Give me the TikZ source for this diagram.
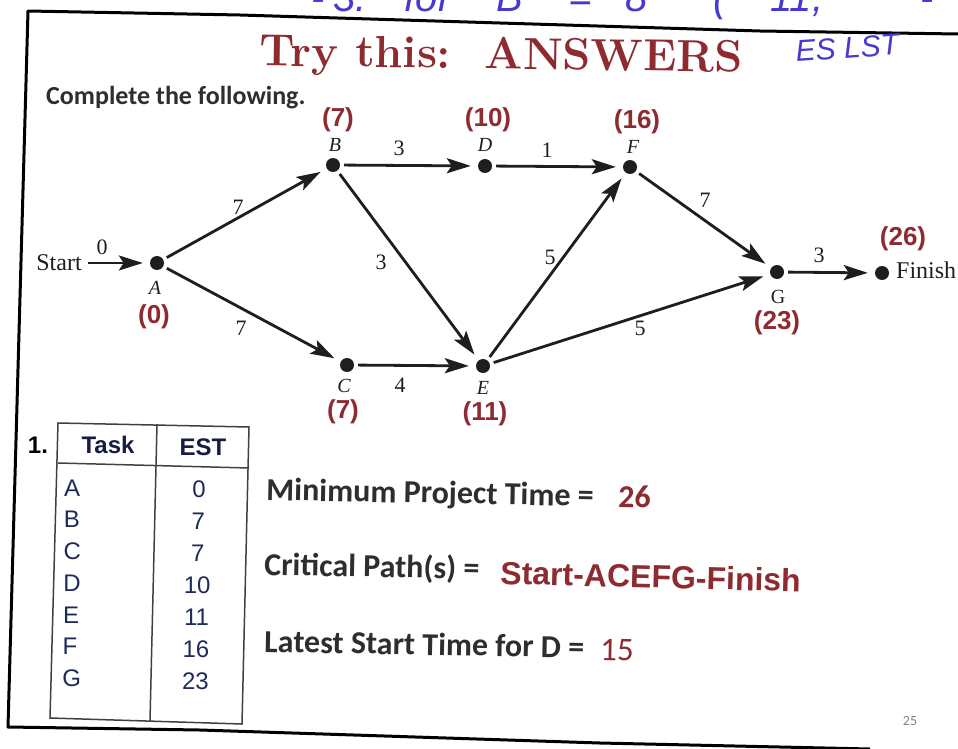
\documentclass[tikz,border=0pt]{standalone}
\usepackage{fontspec}
\newfontfamily\calib{Carlito}
\newfontfamily\arial{Liberation Sans}
\newfontfamily\tnrfont{Liberation Serif}
\usetikzlibrary{arrows.meta}
\definecolor{twink}{HTML}{1E1E1E}
\definecolor{twred}{HTML}{8E2B31}
\definecolor{twnavy}{HTML}{1F2A5C}
\definecolor{twgray}{HTML}{2E2E2E}
\definecolor{twpen}{HTML}{4638D2}

\begin{document}
\begin{tikzpicture}[
  x=1pt,y=-1pt,
  font=\tnrfont\fontsize{22}{26}\selectfont,
  dot/.style={circle,fill=twink,inner sep=0pt,minimum size=14pt},
  edge/.style={draw=twink,line width=2.8pt,shorten <=4pt,shorten >=7pt,
    -{Stealth[length=24pt,width=15pt,inset=5pt]}},
  wt/.style={text=twink,inner sep=0pt},
  lett/.style={text=twink,inner sep=0pt,font=\tnrfont\itshape\fontsize{20}{24}\selectfont},
  est/.style={text=twred,inner sep=0pt,font=\arial\bfseries\fontsize{26}{30}\selectfont},
  cell/.style={text=twnavy,inner sep=0pt,font=\arial\fontsize{24}{28}\selectfont},
  head/.style={text=twnavy!70!black,inner sep=0pt,font=\arial\bfseries\fontsize{24}{28}\selectfont},
  say/.style={text=twgray,inner sep=0pt,anchor=base west,font=\calib\bfseries\fontsize{32}{36}\selectfont},
  ans/.style={text=twred,inner sep=0pt,anchor=base west},
  hand/.style={text=twpen,inner sep=0pt,anchor=base,font=\arial\itshape\fontsize{40}{44}\selectfont},
  frame/.style={draw=black,line width=3pt,line join=round},
  grid/.style={draw=twink!85,line width=1.5pt}
]
  \useasboundingbox (0,0) rectangle (958,749);
  \clip (0,0) rectangle (958,749);
  \fill[white] (0,0) rectangle (958,749);

  \draw[frame] (958,34) -- (760,31) -- (240,15) -- (28,11) -- (8,727)
    -- (200,730) -- (600,743) -- (870,749);

  \foreach \x/\s [count=\i] in {318/{-},350/{3.},428/{for},510/{B},580/{=},
                                637/{8},720/{(},797/{11,},927/{-}}{
    \node[hand] (hw\i) at (\x,12) {\s};
  }
  \node[hand,font=\arial\itshape\fontsize{30}{34}\selectfont,rotate=4] (eslst) at (848,58) {ES LST};

  \node[text=twred,inner sep=0pt,anchor=base,rotate=-0.8,
    font=\rmfamily\bfseries\fontsize{45}{50}\selectfont] (title) at (501,69) {Try this:\ \ ANSWERS};
  \node[text=twgray,inner sep=0pt,anchor=base west,
    font=\calib\bfseries\fontsize{26}{30}\selectfont] (intro) at (46,105) {Complete the following.};

  \node[dot] (A) at (157,263) {};
  \node[dot] (B) at (333,165) {};
  \node[dot] (C) at (347,365) {};
  \node[dot] (D) at (485,166) {};
  \node[dot] (E) at (483,366) {};
  \node[dot] (F) at (630,167) {};
  \node[dot] (G) at (777,272) {};
  \node[dot] (fin) at (882,273) {};
  \node[wt,font=\tnrfont\fontsize{24}{28}\selectfont] (start) at (59,263) {Start};
  \node[wt,anchor=west,font=\tnrfont\fontsize{24}{28}\selectfont] (finish) at (896,270) {Finish};

  \draw[edge,shorten <=0pt] ([xshift=6pt]start.east) -- (A);
  \foreach \a/\b in {A/B,A/C,B/D,B/E,C/E,D/F,E/F,E/G,F/G,G/fin}
    \draw[edge] (\a) -- (\b);

  \foreach \x/\y/\w [count=\i] in {102/247/0,238/207/7,241/328/7,399/148/3,381/262/3,
                                   400/385/4,547/150/1,550/257/5,640/328/5,705/200/7,819/255/3}{
    \node[wt] (w\i) at (\x,\y) {\w};
  }
  \foreach \x/\y/\l in {155/288/A,335/145/B,344/386/C,485/145/D,483/388/E,633/147/F}{
    \node[lett] (l\l) at (\x,\y) {\l};
  }
  \node[lett,font=\tnrfont\fontsize{20}{24}\selectfont] (lG) at (778,297) {G};

  \foreach \x/\y/\t [count=\i] in {154/317/0,338/120/7,343/412/7,488/120/10,485/414/11,
                                   637/122/16,777/323/23,903/239/26}{
    \node[est] (es\i) at (\x,\y) {(\t)};
  }

  \node[inner sep=0pt,font=\arial\bfseries\fontsize{24}{28}\selectfont] (num) at (38,445) {1.};
  \draw[grid] (58,423) -- (249,427) -- (242,724) -- (50,718) -- cycle;
  \draw[grid] (157,424) -- (150,721);
  \draw[grid] (58,463) -- (249,468);
  \node[head] (task) at (108,445) {Task};
  \node[head] (est) at (203,447) {EST};
  \foreach \t/\v [count=\i from 0] in {A/0,B/7,C/7,D/10,E/11,F/16,G/23}{
    \node[cell,anchor=west] (t\t) at ({64-0.3*\i},{488+31.7*\i}) {\t};
    \node[cell] (v\t) at ({199-0.6*\i},{489+32*\i}) {\v};
  }

  \node[say,rotate=-1.1] (mpt) at (266,500) {Minimum Project Time =};
  \node[ans,rotate=-1.1,font=\calib\bfseries\fontsize{32}{36}\selectfont] (mptv) at (618,507) {26};
  \node[say,rotate=-1.1] (cp) at (264,575) {Critical Path(s) =};
  \node[ans,rotate=-1.5,font=\arial\bfseries\fontsize{32}{36}\selectfont] (cpv) at (500,584) {Start-ACEFG-Finish};
  \node[say,rotate=-1.1] (lst) at (264,652) {Latest Start Time for D =};
  \node[ans,rotate=-1.1,font=\calib\fontsize{33}{37}\selectfont] (lstv) at (600,660) {15};
  \node[text=gray,inner sep=0pt,font=\calib\fontsize{14}{16}\selectfont] (pg) at (910,721) {25};
\end{tikzpicture}
\end{document}
